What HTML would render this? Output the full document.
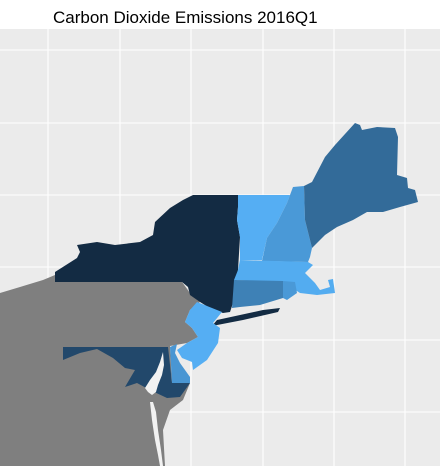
<!DOCTYPE html>
<html><head><meta charset="utf-8"><style>
html,body{margin:0;padding:0;background:#fff;width:440px;height:466px;overflow:hidden}
svg{display:block}
text{font-family:"Liberation Sans",Arial,sans-serif}
</style></head><body>
<svg id="map" width="440" height="466" viewBox="0 0 440 466">
<text x="53" y="23" font-size="17" fill="#000">Carbon Dioxide Emissions 2016Q1</text>
<rect x="0" y="29" width="440" height="437" fill="#EBEBEB"/>
<g id="grid"></g>
<g id="states"></g>
</svg>
<script>
// data: state names and emission values (relative, estimated); null = no data
const stateNames = ["PA","NY","MD","DE","NJ","VT","NH","MA","CT","RI","ME"];
const emissionValues = [null, 1.0, 0.78, 0.2, 0.02, 0.02, 0.18, 0.04, 0.36, 0.18, 0.52];

// geometry (map outlines, not data)
const shapes = {
 PA:"0,293 20,287 43,280 55,275 55,282 182,282 190,293 200,302 190,310 185,322 192,328 198,337 187,343 170,346 172,383 185,385 190,383 183,400 170,410 163,430 165,466 0,466",
 NY:"55,282 55,272 77,258 80,252 77,245 97,242 115,245 140,242 153,235 155,222 170,208 183,200 193,195 238,195 238,207 237,220 240,237 238,270 233,303 230,312 223,313 213,310 200,302 190,295 188,287 182,282 M217,320 263,310 280,308 278,312 243,320 212,326",
 MD:"63,347 63,360 80,353 97,349 113,358 125,368 135,370 125,387 137,383 150,390 167,398 180,397 190,383 172,383 168,347",
 DE:"170,347 177,344 175,353 180,363 190,377 190,383 172,383",
 NJ:"197,302 222,312 213,323 220,328 218,343 207,360 193,370 192,362 182,358 177,350 187,343 198,337 192,328 185,322 190,310",
 VT:"238,195 290,195 287,203 277,223 267,238 262,260 240,260 240,237 237,220 238,207",
 NH:"293,187 304,186 305,220 312,248 310,257 308,262 262,261 267,238 277,223 287,203",
 MA:"240,260 308,262 313,265 305,273 315,283 320,290 330,287 328,280 333,279 335,293 317,295 300,293 283,282 234,280 238,270",
 CT:"234,280 283,281 283,298 260,305 240,307 232,308",
 RI:"283,281 295,282 297,293 287,300 283,298",
 ME:"304,186 312,182 325,157 335,145 355,123 360,125 362,130 377,127 395,128 398,137 397,175 407,178 408,188 415,190 418,202 400,207 383,212 367,212 353,220 337,227 325,235 312,248 305,220"
};
const bayShape = "163,352 160,362 156,372 150,380 145,388 148,392 152,395 156,392 158,385 162,375 164,365 M150,402 152,420 155,440 158,455 160,466 163,466 161,450 158,430 156,412 153,402";
const gridX = [48,120,191,263,334,405];
const gridY = [50,123,195,267,340,412];

const NS="http://www.w3.org/2000/svg";
function lerp(a,b,t){return Math.round(a+(b-a)*t);}
function colorScale(v){
  if(v===null) return "#7F7F7F";
  const lo=[0x56,0xB1,0xF7], hi=[0x13,0x2B,0x43];
  return "rgb("+lo.map((c,i)=>lerp(c,hi[i],v)).join(",")+")";
}
function toPath(s){
  return s.split("M").map(seg=>"M"+seg.trim().split(/\s+/).join(" L")+" Z").join(" ");
}
const grid=document.getElementById("grid");
gridX.forEach(x=>{
  const l=document.createElementNS(NS,"line");
  
  
  l.setAttribute("x1",x);l.setAttribute("x2",x);l.setAttribute("y1",29);l.setAttribute("y2",466);
  l.setAttribute("stroke","#fff");l.setAttribute("stroke-width","1.1");
  grid.appendChild(l);
});
gridY.forEach(y=>{
  const l=document.createElementNS(NS,"line");
  
  
  l.setAttribute("x1",0);l.setAttribute("x2",440);l.setAttribute("y1",y);l.setAttribute("y2",y);
  l.setAttribute("stroke","#fff");l.setAttribute("stroke-width","1.1");
  grid.appendChild(l);
});
const g=document.getElementById("states");
stateNames.forEach((n,i)=>{
  const p=document.createElementNS(NS,"path");
  
  
  p.setAttribute("d",toPath(shapes[n]));
  p.setAttribute("fill",colorScale(emissionValues[i]));
  g.appendChild(p);
});
const bay=document.createElementNS(NS,"path");


bay.setAttribute("d",toPath(bayShape));
bay.setAttribute("fill","#F2F2F2");
g.appendChild(bay);
</script>
</body></html>
